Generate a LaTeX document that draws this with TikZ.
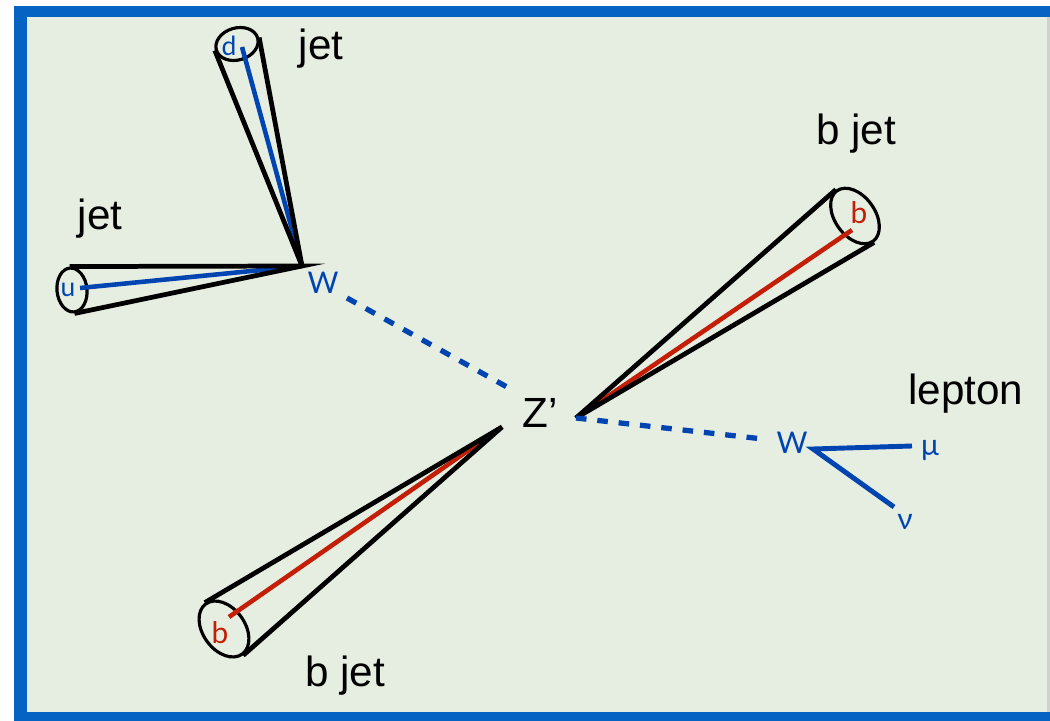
\documentclass[tikz,border=0pt]{standalone}
\usepackage{fontspec}
\setmainfont{Liberation Sans}
\newfontfamily\partfont{Lato}
\usetikzlibrary{shapes.geometric}
\definecolor{zblue}{RGB}{0,68,178}
\definecolor{zred}{RGB}{196,30,6}
\definecolor{frameblue}{RGB}{5,100,195}
\definecolor{bggreen}{RGB}{230,238,226}

\begin{document}
\begin{tikzpicture}[
    x=0.01cm, y=-0.01cm,
    jet_cap/.style={ellipse, draw, line width=0.9pt, inner sep=0pt},
    cone_edge/.style={line width=1.35pt, black},
    quark_line/.style={line width=1.3pt},
    w_line/.style={zblue, line width=1.5pt, dash pattern=on 3pt off 3.1pt},
    lep_line/.style={zblue, line width=1.4pt},
    part/.style={font=\partfont\fontsize{8.5}{10}\selectfont, inner sep=0pt},
    word/.style={font=\fontsize{12}{14}\selectfont, anchor=base, inner sep=0pt}
]
\useasboundingbox (0,0) rectangle (1050,721);

% frame and background
\fill[white] (0,0) rectangle (1050,721);
\fill[frameblue] (14,6) rectangle (1050,721);
\fill[bggreen] (27,17) rectangle (1050,712);
\fill[black!18] (1047,17) rectangle (1050,712);

% vertices
\coordinate (wh) at (302,266);
\coordinate (zt) at (576,418);
\coordinate (zb) at (502,427);
\coordinate (wl) at (813,449);

% Hadronic W (top left): d jet and u jet
\node[jet_cap, minimum width=0.32cm, minimum height=0.43cm, rotate=106.3] (capd) at (237,44) {};
\node[jet_cap, minimum width=0.30cm, minimum height=0.44cm, rotate=186] (capu) at (72,290) {};

\draw[quark_line, zblue] (242,47) -- (wh);
\draw[quark_line, zblue] (80,288) -- (wh);
\draw[cone_edge] (capd.north) -- (wh) -- (capd.south);
\draw[cone_edge] (capu.north) -- (wh) -- (capu.south);

\node[part, text=zblue, font=\partfont\fontsize{7.5}{9}\selectfont] (dlab) at (229,46) {d};
\node[part, text=zblue, font=\partfont\fontsize{7.5}{9}\selectfont] (ulab) at (68,290) {u};
\node[part, text=zblue] (whlab) at (323,283) {W};

\node[word] (jet1) at (321,60) {jet};
\node[word] (jet2) at (100,230) {jet};

% W -> Z' (dashed)
\coordinate (wz1) at (347,298);
\coordinate (wz2) at (507,387);
\draw[w_line] (wz1) -- (wz2);

\node[word] (zlab) at (540,428) {Z’};

% b jet (top right)
\node[jet_cap, minimum width=0.40cm, minimum height=0.62cm, rotate=35.8] (capb1) at (855,216) {};
\draw[quark_line, zred] (852,230) -- (zt);
\draw[cone_edge] (capb1.north) -- (zt) -- (capb1.south);
\node[part, text=zred] (b1lab) at (859,213) {b};
\node[word] (bjet1) at (856,145) {b jet};

% b jet (bottom left)
\node[jet_cap, minimum width=0.42cm, minimum height=0.62cm, rotate=216] (capb2) at (224,629) {};
\draw[quark_line, zred] (229,617) -- (zb);
\draw[cone_edge] (capb2.north) -- (zb) -- (capb2.south);
\node[part, text=zred] (b2lab) at (220,633) {b};
\node[word] (bjet2) at (345,687) {b jet};

% leptonic W (right)
\coordinate (wlend) at (763,439);
\draw[w_line] (zt) -- (wlend);
\node[part, text=zblue] (wllab) at (792,443) {W};

\node[part, text=zblue] (mulab) at (930,450) {μ};
\node[part, text=zblue] (nulab) at (905,522) {ν};
\coordinate (muend) at (912,446);
\coordinate (nuend) at (894,507);
\draw[lep_line] (muend) -- (wl) -- (nuend);

\node[word] (lepton) at (966,405) {lepton};

\end{tikzpicture}
\end{document}
